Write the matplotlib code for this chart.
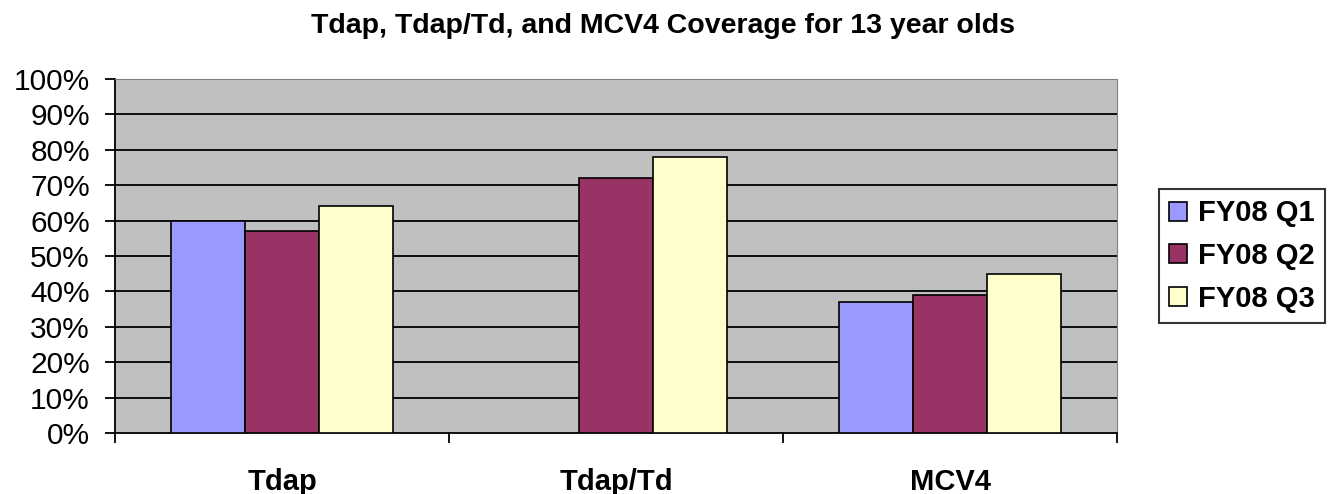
import numpy as np
import matplotlib
matplotlib.use("Agg")
import matplotlib.pyplot as plt

# coverage data (percent)
categories = ["Tdap", "Tdap/Td", "MCV4"]
series_names = ["FY08 Q1", "FY08 Q2", "FY08 Q3"]
q1 = [60, np.nan, 37]
q2 = [57, 72, 39]
q3 = [64, 78, 45]
colors = ["#9999FF", "#993366", "#FFFFCC"]
yticks = [0, 10, 20, 30, 40, 50, 60, 70, 80, 90, 100]

plt.rcParams['font.family'] = ['Liberation Sans', 'DejaVu Sans']

fig = plt.figure(figsize=(13.35, 4.94), dpi=100)
# plot area: x 115..1117, y 79..433 (pixels)
ax = fig.add_axes([115/1335, 61/494, 1002/1335, 354/494])
ax.set_facecolor("#C0C0C0")

x = np.arange(len(categories)) + 0.5
width = 0.222
for i, (vals, name) in enumerate(zip([q1, q2, q3], series_names)):
    ax.bar(x + (i - 1) * width, vals, width, color=colors[i], edgecolor="black",
           linewidth=1.2, label=name, zorder=3)

# gridlines
for y in yticks[1:-1]:
    ax.axhline(y, color="black", linewidth=1.3, zorder=1)

ax.set_xlim(0, 3)
ax.set_ylim(0, 100)
ax.set_yticks(yticks)
ax.set_yticklabels([f"{v}%" for v in yticks], fontsize=21.5)
ax.tick_params(axis="y", length=7, width=1.3, pad=11)

ax.set_xticks(x)
ax.set_xticklabels(categories, fontsize=21, fontweight="bold")
ax.set_xticks([0, 1, 2, 3], minor=True)
ax.tick_params(axis="x", which="major", length=0, pad=25)
ax.tick_params(axis="x", which="minor", length=7, width=1.3)

ax.spines["left"].set_linewidth(1.3)
ax.spines["bottom"].set_linewidth(1.3)
ax.spines["top"].set_color("#808080")
ax.spines["right"].set_color("#808080")

fig.text(0.497, 1 - 33/494, "Tdap, Tdap/Td, and MCV4 Coverage for 13 year olds",
         ha="center", va="baseline", fontsize=20.5, fontweight="bold")

leg = ax.legend(loc="center left", bbox_to_anchor=(1.042, 0.5), frameon=True,
                fancybox=False, edgecolor="black", prop={"size": 21, "weight": "bold"},
                handlelength=0.62, handleheight=0.62, handletextpad=0.35,
                borderpad=0.35, labelspacing=0.5, borderaxespad=0)
leg.get_frame().set_linewidth(1.5)

fig.savefig("out.png", dpi=100)
